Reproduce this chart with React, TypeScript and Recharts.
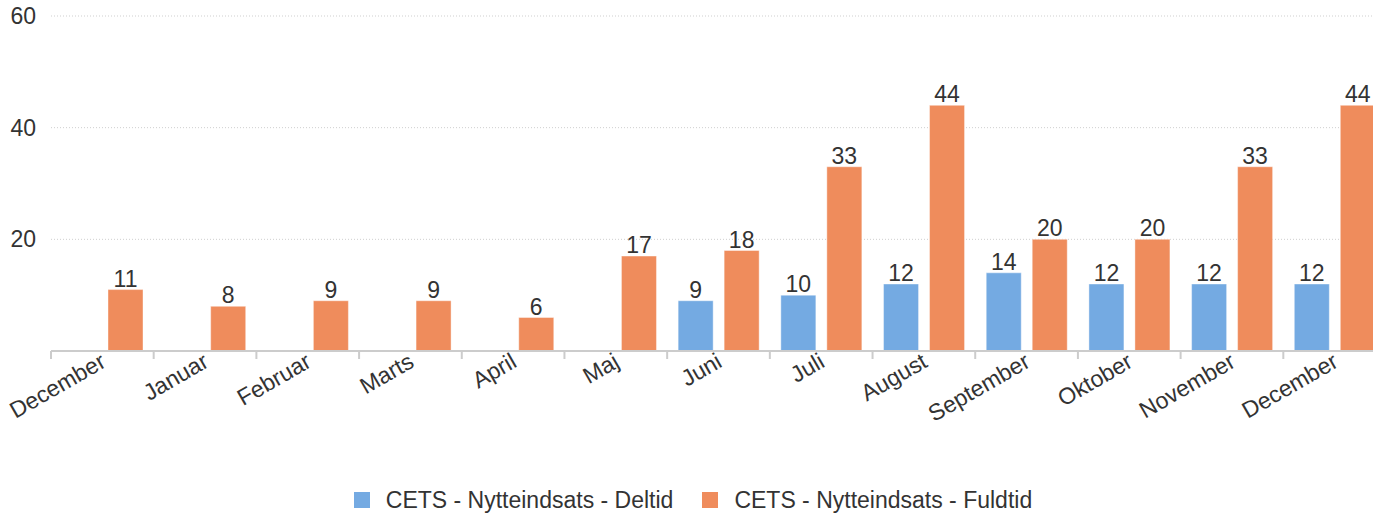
import React from 'react';
import {
  BarChart,
  Bar,
  XAxis,
  YAxis,
  CartesianGrid,
  Legend,
  LabelList,
} from 'recharts';

const months = [
  'December', 'Januar', 'Februar', 'Marts', 'April', 'Maj', 'Juni',
  'Juli', 'August', 'September', 'Oktober', 'November', 'December',
];
const deltid = [null, null, null, null, null, null, 9, 10, 12, 14, 12, 12, 12];
const fuldtid = [11, 8, 9, 9, 6, 17, 18, 33, 44, 20, 20, 33, 44];
const yTicks = [20, 40, 60];

const DELTID = 'CETS - Nytteindsats - Deltid';
const FULDTID = 'CETS - Nytteindsats - Fuldtid';
const BLUE = '#74aae2';
const ORANGE = '#ef8c5c';
const TEXT = '#333333';
const FONT = 23;

const data = months.map((m, i) => ({
  month: m,
  [DELTID]: deltid[i],
  [FULDTID]: fuldtid[i],
}));

function MonthTick(props: any) {
  const { x, y, payload } = props;
  const half = payload && payload.offset ? payload.offset : 51.35;
  const tx = x + 5;
  const ty = y + 7;
  return (
    <g>
      <line x1={x - half} x2={x - half} y1={y - 8} y2={y} stroke="#cccccc" strokeWidth={2} />
      <text
        x={tx}
        y={ty}
        textAnchor="end"
        fill={TEXT}
        fontSize={FONT}
        transform={`rotate(-30, ${tx}, ${ty})`}
      >
        {payload.value}
      </text>
    </g>
  );
}

function LegendContent() {
  const items = [
    { name: DELTID, color: BLUE },
    { name: FULDTID, color: ORANGE },
  ];
  return (
    <div style={{ display: 'flex', justifyContent: 'center', gap: 29 }}>
      {items.map((it) => (
        <div key={it.name} style={{ display: 'flex', alignItems: 'center' }}>
          <span style={{ width: 16, height: 16, background: it.color, display: 'inline-block', marginRight: 16 }} />
          <span style={{ color: TEXT, fontSize: FONT, lineHeight: '26px' }}>{it.name}</span>
        </div>
      ))}
    </div>
  );
}

const labelFmt = (v: any) => (v === null || v === undefined ? '' : v);

export default function App() {
  return (
    <div
      style={{
        position: 'absolute',
        left: 0,
        top: 0,
        width: 1373,
        height: 515,
        overflow: 'hidden',
        background: '#fff',
        fontFamily: '"Liberation Sans", Arial, sans-serif',
      }}
    >
      <BarChart
        width={1390}
        height={515}
        data={data}
        margin={{ top: 16, right: 4, left: 0, bottom: 2 }}
        barCategoryGap={11}
        barGap={11}
      >
        <CartesianGrid vertical={false} stroke="#cfcfcf" strokeDasharray="1 2" />
        <XAxis
          dataKey="month"
          interval={0}
          height={136}
          axisLine={{ stroke: '#cccccc', strokeWidth: 2 }}
          tickLine={false}
          tick={<MonthTick />}
        />
        <YAxis
          domain={[0, 60]}
          ticks={yTicks}
          width={51}
          axisLine={false}
          tickLine={false}
          tickSize={0}
          tickMargin={15}
          tick={{ fill: TEXT, fontSize: FONT }}
        />
        <Legend verticalAlign="bottom" height={26} content={<LegendContent />} />
        <Bar dataKey={DELTID} fill={BLUE} stroke="#ffffff" strokeOpacity={0.4} isAnimationActive={false}>
          <LabelList dataKey={DELTID} position="top" offset={3} fill={TEXT} fontSize={FONT} formatter={labelFmt} />
        </Bar>
        <Bar dataKey={FULDTID} fill={ORANGE} stroke="#ffffff" strokeOpacity={0.4} isAnimationActive={false}>
          <LabelList dataKey={FULDTID} position="top" offset={3} fill={TEXT} fontSize={FONT} formatter={labelFmt} />
        </Bar>
      </BarChart>
    </div>
  );
}
